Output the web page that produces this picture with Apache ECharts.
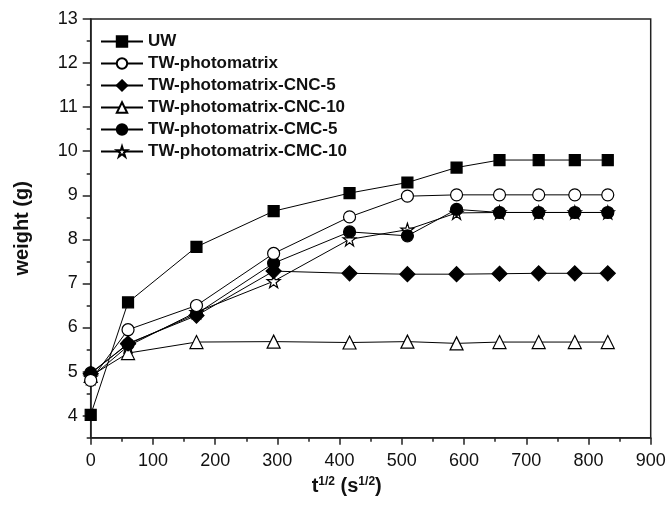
<!DOCTYPE html>
<html>
<head>
<meta charset="utf-8">
<script src="https://cdn.jsdelivr.net/npm/echarts@6/dist/echarts.min.js"></script>
<style>html,body{margin:0;padding:0;background:#fff}#c{width:670px;height:511px}</style>
</head>
<body>
<div id="c"></div>
<script>
// x values: t^(1/2) in s^(1/2)
var xValues = [0, 60, 170, 294, 416, 509, 588, 657, 720, 778, 831];
var seriesNames = ['UW', 'TW-photomatrix', 'TW-photomatrix-CNC-5', 'TW-photomatrix-CNC-10', 'TW-photomatrix-CMC-5', 'TW-photomatrix-CMC-10'];
var uw        = [4.02, 6.57, 7.83, 8.64, 9.05, 9.29, 9.63, 9.80, 9.80, 9.80, 9.80];
var tw        = [4.80, 5.95, 6.50, 7.68, 8.51, 8.98, 9.01, 9.01, 9.01, 9.01, 9.01];
var twCnc5    = [4.95, 5.64, 6.27, 7.28, 7.23, 7.21, 7.21, 7.22, 7.23, 7.23, 7.23];
var twCnc10   = [4.90, 5.42, 5.67, 5.68, 5.66, 5.68, 5.64, 5.67, 5.67, 5.67, 5.67];
var twCmc5    = [4.97, 5.62, 6.31, 7.46, 8.17, 8.08, 8.68, 8.61, 8.61, 8.61, 8.61];
var twCmc10   = [4.86, 5.58, 6.35, 7.05, 8.00, 8.22, 8.60, 8.61, 8.61, 8.61, 8.61];
var yTicks = [4, 5, 6, 7, 8, 9, 10, 11, 12, 13];

var FONT = 'Liberation Sans, Arial, Helvetica, sans-serif';
var STAR = 'path://M50,0 L61.2,34.5 L97.6,34.5 L68.2,55.9 L79.4,90.5 L50,69.1 L20.6,90.5 L31.8,55.9 L2.4,34.5 L38.8,34.5 Z';

function pairs(ys) { return xValues.map(function (x, i) { return [x, ys[i]]; }); }

var defs = [
  { data: uw, symbol: 'rect', size: 11, fill: '#000' },
  { data: tw, symbol: 'circle', size: 12, fill: '#fff' },
  { data: twCnc5, symbol: 'diamond', size: 15, fill: '#000' },
  { data: twCnc10, symbol: 'triangle', size: 13, fill: '#fff' },
  { data: twCmc5, symbol: 'circle', size: 12, fill: '#000' },
  { data: twCmc10, symbol: STAR, size: 13, fill: '#fff' }
];

var series = defs.map(function (d, i) {
  return {
    name: seriesNames[i],
    type: 'line',
    data: pairs(d.data),
    symbol: d.symbol,
    symbolSize: d.size,
    showAllSymbol: true,
    lineStyle: { color: '#000', width: 1 },
    itemStyle: { color: d.fill, borderColor: '#000', borderWidth: 1.2 },
    emphasis: { disabled: true },
    animation: false,
    z: 10 - i
  };
});

var chart = echarts.init(document.getElementById('c'), null, { renderer: 'canvas' });
chart.setOption({
  backgroundColor: '#fff',
  animation: false,
  grid: { left: 90.7, right: 19.3, top: 19, bottom: 73.3, show: true, borderColor: '#222', borderWidth: 1.5, backgroundColor: 'transparent' },
  legend: {
    orient: 'vertical',
    left: 100,
    top: 33,
    itemWidth: 42,
    itemHeight: 13,
    itemGap: 5,
    padding: 0,
    selectedMode: false,
    textStyle: { fontFamily: FONT, fontSize: 17, fontWeight: 'bold', color: '#111', lineHeight: 17 },
    data: seriesNames
  },
  xAxis: {
    type: 'value',
    min: 0, max: 900, interval: 100,
    axisLine: { onZero: false, lineStyle: { color: '#222', width: 1.5 } },
    axisTick: { length: 7, lineStyle: { color: '#222', width: 1.5 } },
    minorTick: { show: true, splitNumber: 2, length: 4, lineStyle: { color: '#222', width: 1.5 } },
    splitLine: { show: false },
    axisLabel: { fontFamily: FONT, fontSize: 18, color: '#111', margin: 14 },
    name: '{b|t}{s|1/2}{b| (s}{s|1/2}{b|)}',
    nameLocation: 'middle',
    nameGap: 38,
    nameTextStyle: {
      padding: [0, 48, 0, 0],
      rich: {
        b: { fontFamily: FONT, fontSize: 20, fontWeight: 'bold', color: '#111' },
        s: { fontFamily: FONT, fontSize: 12, fontWeight: 'bold', color: '#111', padding: [0, 0, 10, 0] }
      }
    }
  },
  yAxis: [{
    type: 'value',
    min: 3.5, max: 13, splitNumber: 9,
    axisLine: { onZero: false, lineStyle: { color: '#222', width: 1.5 } },
    axisTick: { length: 8, lineStyle: { color: '#222', width: 1.5 } },
    splitLine: { show: false },
    axisLabel: {
      fontFamily: FONT, fontSize: 18, color: '#111', margin: 13, showMinLabel: false,
      formatter: function (v) { return yTicks.indexOf(v) >= 0 ? String(v) : ''; }
    },
    name: 'weight (g)',
    nameLocation: 'middle',
    nameGap: 58,
    nameTextStyle: { fontFamily: FONT, fontSize: 20, fontWeight: 'bold', color: '#111' }
  }, {
    type: 'value',
    position: 'left',
    min: 3.5, max: 13, interval: 0.5,
    axisLine: { show: false },
    axisTick: { length: 4, lineStyle: { color: '#222', width: 1.5 } },
    axisLabel: { show: false },
    splitLine: { show: false }
  }],
  series: series
});
</script>
</body>
</html>
